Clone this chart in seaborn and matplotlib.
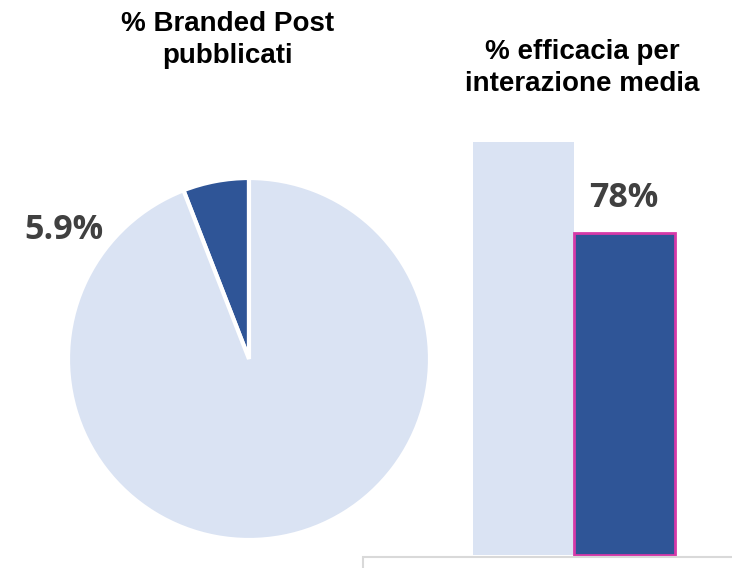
import matplotlib
matplotlib.use("Agg")
import matplotlib.pyplot as plt
from matplotlib.patches import Rectangle
import seaborn as sns
import pandas as pd

# Data
pie_labels = ["Branded", "Altri"]
pie_values = [5.9, 94.1]
bar_categories = ["Totale", "Branded"]
bar_values = [100, 78]

light = "#DAE3F3"
dark = "#2F5597"
pink = "#D63AA8"
text_grey = "#404040"

sns.set_theme(style="white")
plt.rcParams["font.family"] = ["Liberation Sans", "DejaVu Sans"]

W, H = 732, 568
fig = plt.figure(figsize=(W / 100, H / 100), dpi=100)


def px_axes(left, top, width, height):
    return fig.add_axes([left / W, 1 - (top + height) / H, width / W, height / H])


# Pie: share of branded posts
ax_pie = px_axes(68, 178, 362, 362)
ax_pie.pie(pie_values, colors=[dark, light], startangle=90, counterclock=True,
           wedgeprops=dict(edgecolor="white", linewidth=3))
ax_pie.set_xlim(-1, 1)
ax_pie.set_ylim(-1, 1)
ax_pie.set_aspect("equal")
ax_pie.axis("off")

# Bars: efficacy per average interaction
ax_bar = px_axes(473, 142, 202, 413)
df = pd.DataFrame({"cat": bar_categories, "val": bar_values})
sns.barplot(data=df, x="cat", y="val", hue="cat", palette=[light, dark],
            width=1.0, legend=False, ax=ax_bar, saturation=1)
ax_bar.set_xlim(-0.5, 1.5)
ax_bar.set_ylim(0, 100)
for p in ax_bar.patches:
    p.set_clip_on(False)
    p.set_linewidth(0)
ax_bar.patches[1].set_edgecolor(pink)
ax_bar.patches[1].set_linewidth(2)
ax_bar.axis("off")

# Titles
title_kw = dict(ha="center", va="center", fontsize=20, fontweight="bold",
                color="black", linespacing=1.33)
fig.text(228 / W, 1 - 40 / H, "% Branded Post\npubblicati", **title_kw)
fig.text(582 / W, 1 - 68 / H, "% efficacia per\ninterazione media", **title_kw)

# Value labels
val_kw = dict(ha="center", va="center", fontsize=24.5, fontweight="bold",
              color=text_grey, family=["Open Sans", "DejaVu Sans"])
fig.text(64 / W, 1 - 230 / H, f"{pie_values[0]}%", **val_kw)
fig.text(624 / W, 1 - 198 / H, f"{bar_values[1]}%", **val_kw)

# Frame of the lower panel
fig.patches.append(Rectangle((363 / W, -0.05), 0.6, 0.05 + (H - 557) / H,
                             transform=fig.transFigure, fill=False,
                             edgecolor="#D9D9D9", linewidth=1.5))

fig.savefig("out.png", dpi=100)
